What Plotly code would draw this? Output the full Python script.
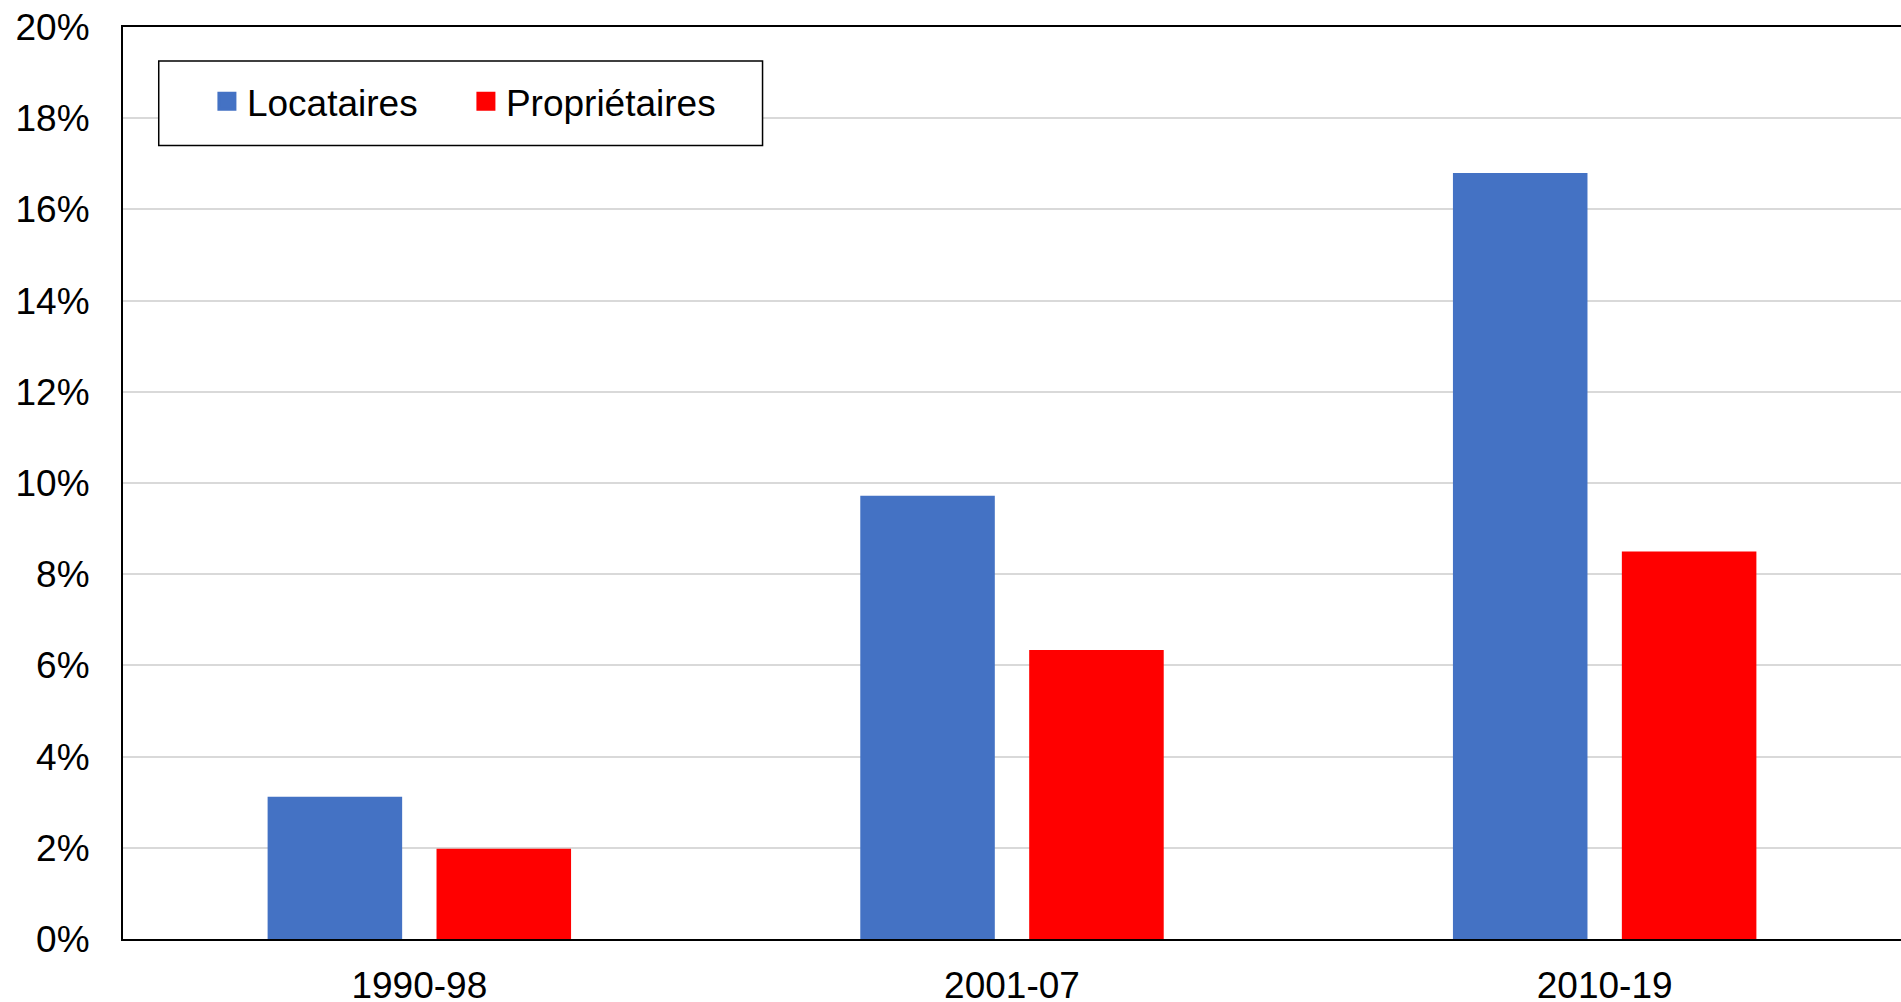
import plotly.graph_objects as go

periods = ["1990-98", "2001-07", "2010-19"]
locataires = [3.12, 9.72, 16.80]
proprietaires = [1.98, 6.34, 8.50]
y_ticks = [0, 2, 4, 6, 8, 10, 12, 14, 16, 18, 20]
y_labels = ["0%", "2%", "4%", "6%", "8%", "10%", "12%", "14%", "16%", "18%", "20%"]

BLUE = "#4472C4"
RED = "#FF0000"
FONT = "Liberation Sans, Arial, sans-serif"
FS = 37

fig = go.Figure()

# bars (legend comes from the marker-only traces below)
fig.add_trace(go.Bar(x=periods, y=locataires, name="Locataires", marker_color=BLUE,
                     width=0.227, offset=-0.256, showlegend=False, legendgroup="loc"))
fig.add_trace(go.Bar(x=periods, y=proprietaires, name="Propriétaires", marker_color=RED,
                     width=0.227, offset=0.029, showlegend=False, legendgroup="prop"))

for name, col, grp in [("Locataires", BLUE, "loc"), ("Propriétaires", RED, "prop")]:
    fig.add_trace(go.Scatter(x=[None], y=[None], mode="markers", name=name, legendgroup=grp,
                             marker=dict(symbol="square", size=16, color=col,
                                         line=dict(color=col, width=3))))

fig.update_layout(
    template="none",
    width=1901, height=1002, autosize=False,
    margin=dict(l=123, r=0, t=27, b=63, pad=0),
    plot_bgcolor="white", paper_bgcolor="white",
    font=dict(family=FONT, size=FS, color="black"),
    showlegend=True,
    legend=dict(orientation="h", x=0.0472, xanchor="left", y=0.918, yanchor="middle",
                bgcolor="rgba(0,0,0,0)", borderwidth=0, entrywidth=214,
                font=dict(family=FONT, size=FS, color="black")),
    shapes=[dict(type="rect", xref="paper", yref="paper", x0=0.0201, x1=0.3597,
                 y0=0.870, y1=0.9627, line=dict(color="black", width=1.5),
                 fillcolor="white", layer="above")],
)

fig.update_xaxes(type="category", range=[-0.5, 2.5], showgrid=False, automargin=False,
                 showline=True, linecolor="black", linewidth=2, mirror=True,
                 ticks="", ticklabelstandoff=13, tickfont=dict(size=FS))
fig.update_yaxes(range=[0, 20], tickmode="array", tickvals=y_ticks, ticktext=y_labels,
                 showgrid=True, gridcolor="#D9D9D9", gridwidth=1.5, zeroline=False,
                 automargin=False, showline=True, linecolor="black", linewidth=2,
                 ticks="", ticklabelstandoff=24, ticklabeloverflow="allow",
                 tickfont=dict(size=FS))

# drop the default page margin so the figure fills the window exactly
fig.write_html("out.html", config={"displayModeBar": False},
               post_script="document.body.style.margin='0';"
                           "document.body.style.overflow='hidden';")
